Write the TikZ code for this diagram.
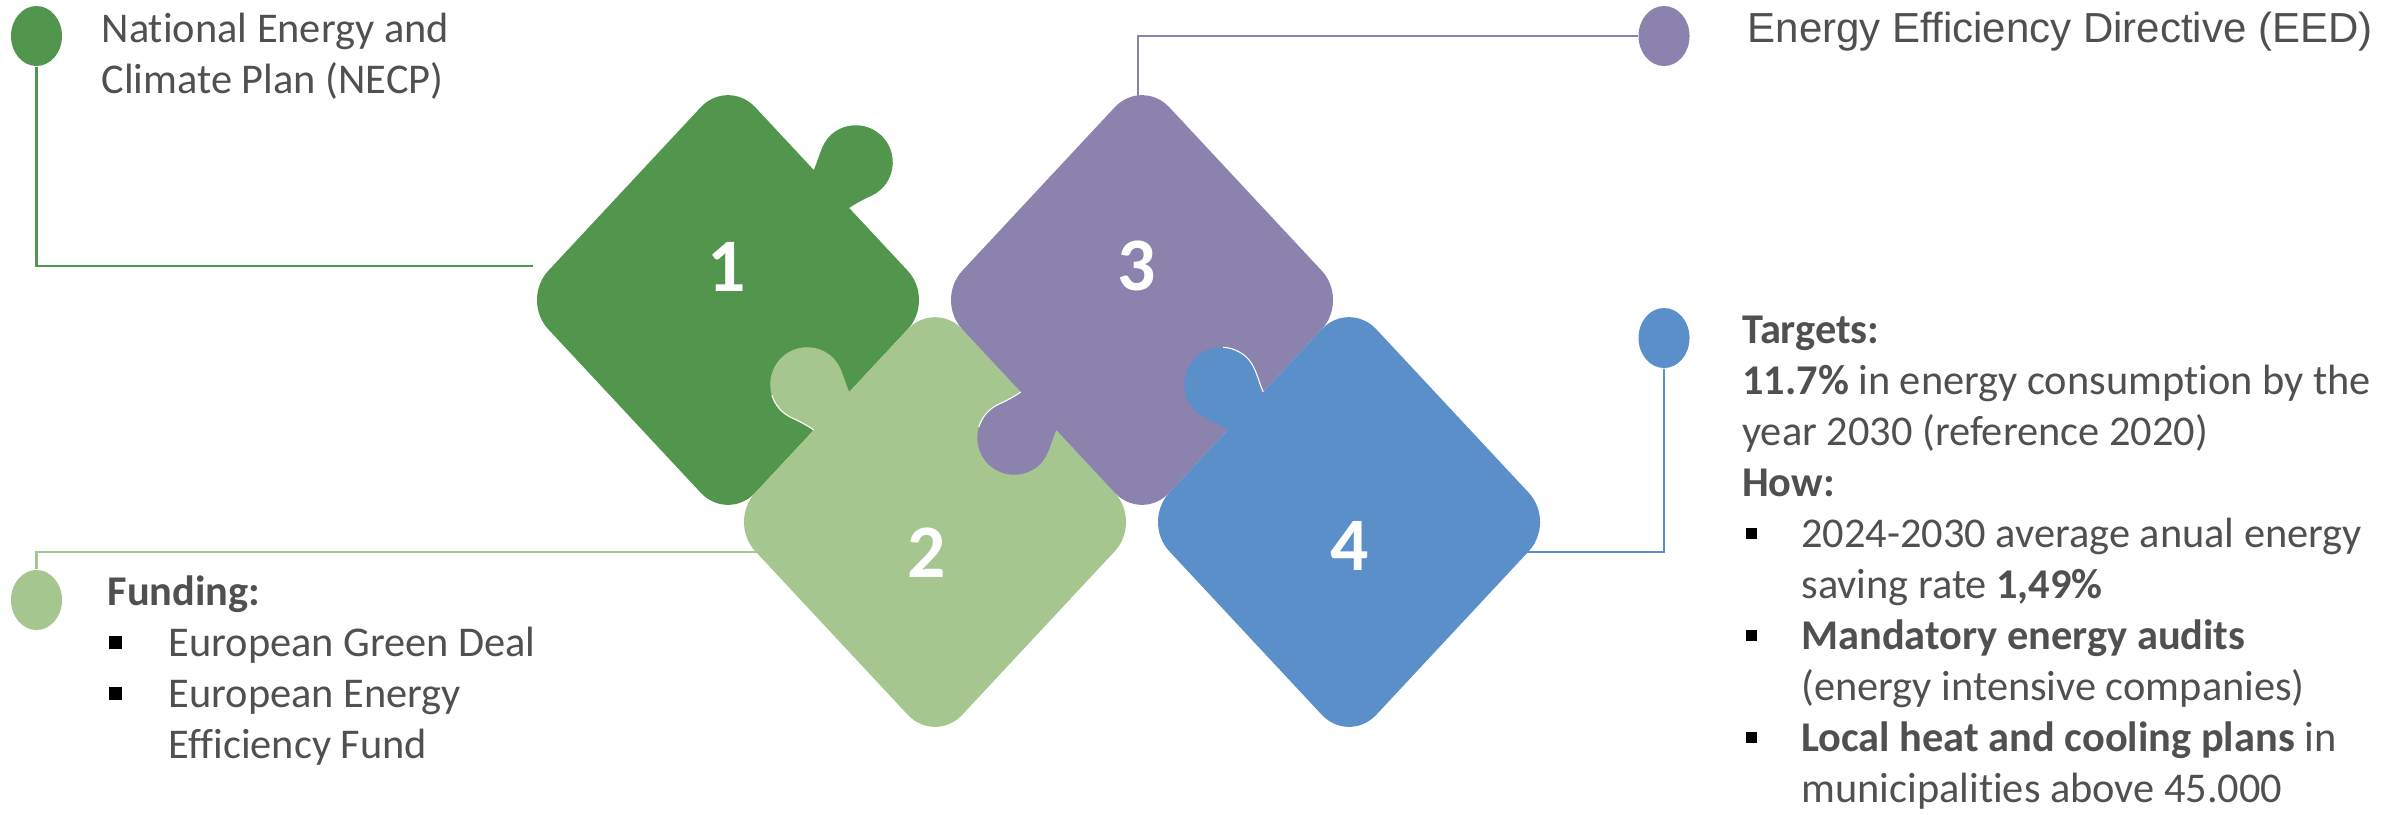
\documentclass[tikz,border=0pt]{standalone}
\usepackage{fontspec}
\setmainfont{Carlito}[RawFeature={-liga}]
\newfontfamily\arialfont{Liberation Sans}[RawFeature={-liga}]
\usetikzlibrary{shapes.geometric}
\definecolor{dgreen}{HTML}{52964D}
\definecolor{lgreen}{HTML}{A6C690}
\definecolor{purp}{HTML}{8B82AE}
\definecolor{blue4}{HTML}{5A8FC9}
\definecolor{txtgray}{HTML}{505050}
\tikzset{seam/.style={white, line width=0.3pt}}
\newcommand\puzzlebody[3]{%
  \fill[#3, rounded corners=0.4cm] (#1,#2+222) -- (#1+207,#2) -- (#1,#2-222) -- (#1-207,#2) -- cycle;}
% knob: #1 x, #2 y, #3 rotation, #4 mirror (1 or -1), #5 colour
\newcommand\puzzleknob[5]{%
  \begin{scope}[shift={(#1,#2)}, rotate=#3, xscale=#4]
    \fill[#5] (-26,-8) -- (-26,0) .. controls (-31,12) and (-40,23) .. (-40,36)
      arc[start angle=180, end angle=-20, radius=37]
      .. controls (29.1,15.8) and (26.5,5) .. (26,0) -- (26,-8) -- cycle;
  \end{scope}}
\newcommand\seamB[4]{% outline on the plain side
  \begin{scope}[shift={(#1,#2)}, rotate=#3, xscale=#4]
    \draw[seam] (29.04,54.5) arc[start angle=30, end angle=-20, radius=37]
      .. controls (29.1,15.8) and (26.5,5) .. (26,0);
  \end{scope}}
\newcommand\seamA[4]{% outline on the flaring side
  \begin{scope}[shift={(#1,#2)}, rotate=#3, xscale=#4]
    \draw[seam] (-26,0) .. controls (-31,12) and (-40,23) .. (-40,36)
      arc[start angle=180, end angle=140, radius=37];
  \end{scope}}
\begin{document}
\begin{tikzpicture}[x=0.01cm, y=0.01cm,
  txt/.style={inner sep=0pt, anchor=base west, text=txtgray, font=\fontsize{12.05pt}{14.5pt}\selectfont},
  num/.style={inner sep=0pt, text=white, font=\fontsize{21.5pt}{25pt}\selectfont\bfseries},
  dot/.style={ellipse, minimum width=0.51cm, minimum height=0.6cm, inner sep=0pt},
  bul/.style={fill=black, minimum size=0.11cm, inner sep=0pt},
  conn/.style={line width=0.6pt}]
\useasboundingbox (0,0) rectangle (2407,-814);
% marker ellipses
\node[dot, fill=dgreen] (e1) at (36.5,-36) {};
\node[dot, fill=lgreen] (e2) at (36.5,-600) {};
\node[dot, fill=purp] (e3) at (1664,-36) {};
\node[dot, fill=blue4] (e4) at (1664,-338) {};
% connectors
\coordinate (c1) at (533,-266);
\coordinate (c2) at (770,-552);
\coordinate (c3) at (1138,-110);
\coordinate (c4) at (1515,-552);
\draw[conn, dgreen] (e1.south) |- (c1);
\draw[conn, lgreen] (e2.north) |- (c2);
\draw[conn, purp] (c3) |- (e3.west);
\draw[conn, blue4] (e4.south) |- (c4);
% puzzle pieces
\puzzlebody{728}{-300}{dgreen}
\puzzleknob{831.5}{-189}{-47}{1}{dgreen}
\puzzlebody{935}{-522}{lgreen}
\puzzleknob{831.5}{-411}{47}{-1}{lgreen}
\seamB{831.5}{-411}{47}{-1}
\puzzlebody{1142}{-300}{purp}
\puzzleknob{1038.5}{-411}{133}{1}{purp}
\seamB{1038.5}{-411}{133}{1}
\puzzlebody{1349}{-522}{blue4}
\puzzleknob{1245.5}{-411}{47}{-1}{blue4}
\seamA{1245.5}{-411}{47}{-1}
\node[num] (n1) at (727,-267) {1};
\node[num] (n2) at (927,-553) {2};
\node[num] (n3) at (1137,-266) {3};
\node[num] (n4) at (1350,-546) {4};
% NECP
\node[txt] (t1a) at (101,-42) {National Energy and};
\node[txt] (t1b) at (101,-93) {Climate Plan (NECP)};
% Funding
\node[txt] (t2h) at (107,-605) {\bfseries Funding:};
\node[bul, minimum size=0.125cm] (b2a) at (115.5,-642.5) {};
\node[txt] (t2a) at (168,-656) {European Green Deal};
\node[bul, minimum size=0.125cm] (b2b) at (115.5,-693.5) {};
\node[txt] (t2b) at (168,-707) {European Energy};
\node[txt] (t2c) at (168,-758) {Efficiency Fund};
% EED
\node[txt, font=\arialfont\fontsize{11.95pt}{14pt}\selectfont] (t3) at (1747,-42) {Energy Efficiency Directive (EED)};
% Targets
\node[txt] (t4a) at (1741.5,-343) {\bfseries Targets:};
\node[txt] (t4b) at (1741.5,-394) {{\bfseries 11.7\%} in energy consumption by the};
\node[txt] (t4c) at (1741.5,-445) {year 2030 (reference 2020)};
\node[txt] (t4d) at (1741.5,-496) {\bfseries How:};
\node[bul] (b4a) at (1751,-533) {};
\node[txt] (t4e) at (1800.7,-547) {2024-2030 average anual energy};
\node[txt] (t4f) at (1800.7,-598) {saving rate {\bfseries 1,49\%}};
\node[bul] (b4b) at (1751,-635) {};
\node[txt] (t4g) at (1800.7,-649) {\bfseries Mandatory energy audits};
\node[txt] (t4h) at (1800.7,-700) {(energy intensive companies)};
\node[bul] (b4c) at (1751,-737) {};
\node[txt] (t4i) at (1800.7,-751) {{\bfseries Local heat and cooling plans} in};
\node[txt] (t4j) at (1800.7,-802) {municipalities above 45.000};
\end{tikzpicture}
\end{document}
